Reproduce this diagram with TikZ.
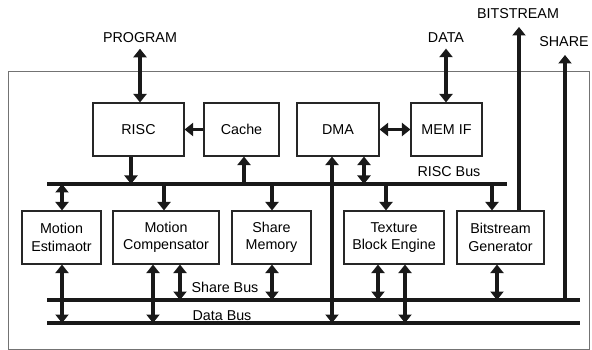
\documentclass[tikz,border=0pt]{standalone}
\usepackage{fontspec}
\setmainfont{Liberation Sans}
\usetikzlibrary{arrows.meta}
\begin{document}
\begin{tikzpicture}[x=1pt,y=-1pt,
  txt/.style={font=\fontsize{14.3}{17.5}\selectfont, inner sep=0pt, align=center},
  blk/.style={draw=black!85, line width=1.1pt, txt},
  bus/.style={line width=3.3pt, black!90},
  arr/.style={line width=3.4pt, black!90, -{Triangle[width=13pt,length=8.5pt]}},
  dbl/.style={line width=3.4pt, black!90, {Triangle[width=13pt,length=8.5pt]}-{Triangle[width=13pt,length=8.5pt]}},
  frame/.style={draw=black!55, line width=0.9pt}]
\useasboundingbox (0,0) rectangle (592,350);

% chip outline
\draw[frame] (8,71) rectangle (589,349);

% functional blocks
\node[blk, minimum width=91pt, minimum height=53pt] (risc)  at (138.5,129.5) {RISC};
\node[blk, minimum width=75pt, minimum height=53pt] (cache) at (241.5,129.5) {Cache};
\node[blk, minimum width=82pt, minimum height=53pt] (dma)   at (338,129.5)   {DMA};
\node[blk, minimum width=71pt, minimum height=53pt] (memif) at (446.5,129.5) {MEM IF};
\node[blk, minimum width=79pt, minimum height=53pt] (me)    at (61.5,237.5)  {Motion\\Estimaotr};
\node[blk, minimum width=106pt, minimum height=53pt] (mc)   at (166,237.5)   {Motion\\Compensator};
\node[blk, minimum width=79pt, minimum height=53pt] (sm)    at (271.5,237.5) {Share\\Memory};
\node[blk, minimum width=100pt, minimum height=53pt] (tbe)  at (394,237.5)   {Texture\\Block Engine};
\node[blk, minimum width=87pt, minimum height=53pt] (bg)    at (500.5,237.5) {Bitstream\\Generator};

% external signals
\node[txt] (prog)  at (140,38)  {PROGRAM};
\node[txt] (data)  at (446,38)  {DATA};
\node[txt] (bits)  at (518,14)  {BITSTREAM};
\node[txt] (share) at (564,42)  {SHARE};

% buses
\coordinate (rbL) at (47,184);  \coordinate (rbR) at (507,184);
\coordinate (sbL) at (47,300);  \coordinate (sbR) at (580,300);
\coordinate (dbL) at (47,323);  \coordinate (dbR) at (580,323);
\draw[bus] (rbL) -- (rbR);
\draw[bus] (sbL) -- (sbR);
\draw[bus] (dbL) -- (dbR);
\node[txt] (rblab) at (449,172) {RISC Bus};
\node[txt] (sblab) at (225,287) {Share Bus};
\node[txt] (dblab) at (222,316) {Data Bus};

% external connections
\draw[dbl] (prog.south -| 140,0) ++(0,5.5) -- (risc.north -| 140,0);
\draw[dbl] (data.south -| 446,0) ++(0,5.5) -- (memif.north -| 446,0);
\draw[arr] (bg.north -| 519,0) -- (519,27);
\draw[arr] (sbR -| 565,0) -- (565,55);

% block to block
\draw[arr] (cache.west) -- (risc.east);
\draw[dbl] (dma.east) -- (memif.west);

% RISC bus connections
\draw[arr] (risc.south -| 131,0) -- (rbL -| 131,0);
\draw[arr] (rbL -| 244,0) -- (cache.south -| 244,0);
\draw[dbl] (dma.south -| 364,0) -- (rbL -| 364,0);
\draw[dbl] (rbL -| 62,0) -- (me.north -| 62,0);
\draw[arr] (rbL -| 164,0) -- (mc.north -| 164,0);
\draw[arr] (rbL -| 272,0) -- (sm.north -| 272,0);
\draw[arr] (rbL -| 386,0) -- (tbe.north -| 386,0);
\draw[arr] (rbL -| 492,0) -- (bg.north -| 492,0);

% share bus and data bus connections
\draw[dbl] (dma.south -| 332,0) -- (dbL -| 332,0);
\draw[dbl] (me.south -| 62,0) -- (dbL -| 62,0);
\draw[dbl] (mc.south -| 153,0) -- (dbL -| 153,0);
\draw[dbl] (mc.south -| 180,0) -- (sbL -| 180,0);
\draw[dbl] (sm.south -| 272,0) -- (sbL -| 272,0);
\draw[dbl] (tbe.south -| 378,0) -- (sbL -| 378,0);
\draw[dbl] (tbe.south -| 405,0) -- (dbL -| 405,0);
\draw[dbl] (bg.south -| 497,0) -- (sbL -| 497,0);
\end{tikzpicture}
\end{document}
